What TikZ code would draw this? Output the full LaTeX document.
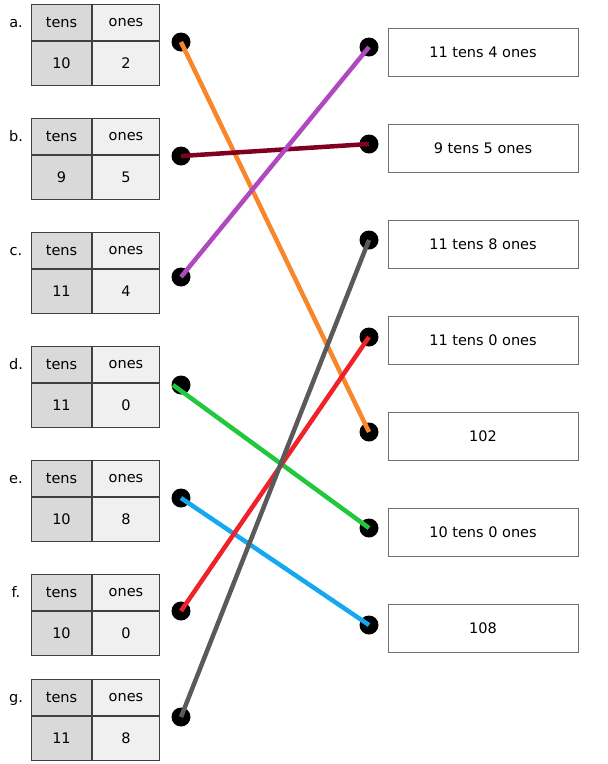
\documentclass[tikz,border=0pt]{standalone}
\usepackage{fontspec}
\setmainfont{DejaVu Sans}
\definecolor{tensgray}{HTML}{D9D9D9}
\definecolor{onesgray}{HTML}{F0F0F0}
\definecolor{cellline}{HTML}{404040}
\definecolor{boxline}{HTML}{707070}
\definecolor{lorange}{HTML}{F7872A}
\definecolor{ldarkred}{HTML}{7F0020}
\definecolor{lpurple}{HTML}{B048C0}
\definecolor{lgreen}{HTML}{22C83C}
\definecolor{lblue}{HTML}{14A8F0}
\definecolor{lred}{HTML}{EE2228}
\definecolor{lgray}{HTML}{5A5A5A}
\tikzset{
  cell/.style={draw=cellline, line width=1pt, minimum height=36pt, inner sep=0pt, font=\fontsize{14.5}{16}\selectfont, text=black},
  tenscell/.style={cell, fill=tensgray, minimum width=60pt},
  onescell/.style={cell, fill=onesgray, minimum width=67pt},
  letter/.style={font=\fontsize{14.5}{16}\selectfont, inner sep=0pt, anchor=base},
  dot/.style={circle, fill=black, minimum size=19pt, inner sep=0pt},
  answer/.style={draw=boxline, line width=1pt, minimum width=190pt, minimum height=48pt, inner sep=0pt, font=\fontsize{14.5}{16}\selectfont},
  link/.style={line width=4.5pt}
}
\newcommand\pvtable[5]{%
  \node[tenscell, anchor=north west] (#1t1) at (31,#2) {tens};
  \node[onescell, anchor=north west] (#1o1) at (#1t1.north east) {ones};
  \node[tenscell, anchor=north west, minimum height=44pt] (#1t2) at (#1t1.south west) {#4};
  \node[onescell, anchor=north west, minimum height=44pt] (#1o2) at (#1o1.south west) {#5};
  \node[letter] (#1lab) at (16,#2+23) {#3};
}
\begin{document}
\begin{tikzpicture}[x=1pt,y=-1pt]
\useasboundingbox (0,0) rectangle (608,764);
\pvtable{a}{4}{a.}{10}{2}
\pvtable{b}{118}{b.}{9}{5}
\pvtable{c}{232}{c.}{11}{4}
\pvtable{d}{346}{d.}{11}{0}
\pvtable{e}{460}{e.}{10}{8}
\pvtable{f}{574}{f.}{10}{0}
\pvtable{g}{679}{g.}{11}{8}
% left dots
\node[dot] (La) at (181,42) {};
\node[dot] (Lb) at (181,156) {};
\node[dot] (Lc) at (181,277) {};
\node[dot] (Ld) at (181,385) {};
\node[dot] (Le) at (181,498) {};
\node[dot] (Lf) at (181,611) {};
\node[dot] (Lg) at (181,717) {};
% right dots
\node[dot] (R1) at (369,47) {};
\node[dot] (R2) at (369,144) {};
\node[dot] (R3) at (369,240) {};
\node[dot] (R4) at (369,337) {};
\node[dot] (R5) at (369,432) {};
\node[dot] (R6) at (369,528) {};
\node[dot] (R7) at (369,625) {};
% answer boxes
\node[answer] (B1) at (483,52) {11 tens 4 ones};
\node[answer] (B2) at (483,148) {9 tens 5 ones};
\node[answer] (B3) at (483,244) {11 tens 8 ones};
\node[answer] (B4) at (483,340) {11 tens 0 ones};
\node[answer] (B5) at (483,436) {102};
\node[answer] (B6) at (483,532) {10 tens 0 ones};
\node[answer] (B7) at (483,628) {108};
% links
\draw[link, lorange] (La.center) -- (R5.center);
\draw[link, ldarkred] (Lb.center) -- (R2.center);
\draw[link, lpurple] (Lc.center) -- (R1.center);
\draw[link, lgreen] ([xshift=-8pt]Ld.center) -- (R6.center);
\draw[link, lblue] (Le.center) -- (R7.center);
\draw[link, lred] (Lf.center) -- (R4.center);
\draw[link, lgray] (Lg.center) -- (R3.center);
\end{tikzpicture}
\end{document}
